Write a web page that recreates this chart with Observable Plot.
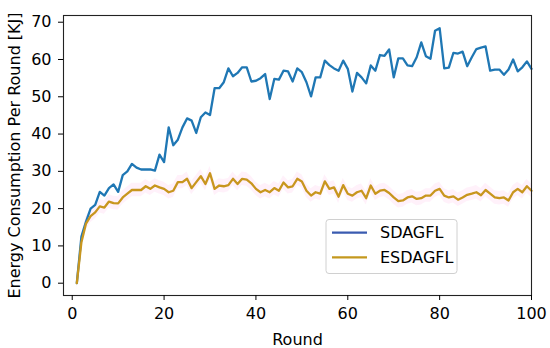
<!DOCTYPE html>
<html>
<head>
<meta charset="utf-8">
<script src="https://cdn.jsdelivr.net/npm/d3@7"></script>
<script src="https://cdn.jsdelivr.net/npm/@observablehq/plot@0.6"></script>
<style>
  html, body { margin: 0; padding: 0; background: white; }
</style>
</head>
<body>
<div id="chart"></div>
<script>
const rounds = d3.range(1, 101);
const seriesNames = ["SDAGFL", "ESDAGFL"];
const seriesColors = ["#1f77b4", "#c8961e"];
const sdagfl = [
  0, 12.5, 16.5, 20, 21, 24.5, 23.5, 25.5, 26.5, 24.5,
  29, 30, 32, 31, 30.5, 30.5, 30.5, 30.2, 34.5, 32.5,
  41.8, 37, 38.5, 41.8, 44.2, 43.6, 40.3, 44.5, 45.8, 45.1,
  52.3, 52.3, 53.9, 57.6, 55.5, 56.4, 57.9, 57.9, 54.1, 54.3,
  55, 56.1, 49.4, 54.8, 54.6, 57, 56.8, 54.1, 57.6, 56.6,
  53.9, 50.1, 55.2, 55.2, 59.7, 58.5, 57.6, 57, 59.7, 57.5,
  51.4, 56.4, 55.2, 53.6, 58.4, 57, 61.2, 61, 62.7, 55.2,
  60.3, 60.3, 58.4, 58.2, 60.6, 64.6, 60.9, 60.2, 67.7, 68.4,
  57.6, 57.8, 61.8, 61.6, 62.1, 58.2, 60.6, 62.8, 63.2, 63.5,
  57, 57.3, 57.3, 55.9, 57.3, 60, 56.8, 57.9, 59.5, 57.5
];
const esdagfl = [
  0, 11, 16, 18, 19, 20.6, 20.3, 21.9, 21.5, 21.4,
  23, 24, 25, 25, 25, 26, 25.3, 26.2, 25.7, 25.3,
  24.4, 24.8, 27.1, 27.1, 28, 25.5, 27.1, 28.7, 26.6, 29.5,
  25.3, 26.2, 26, 26.3, 28, 26.6, 28, 27.8, 26.8, 25.3,
  24.4, 25, 24.4, 25.5, 24.8, 27, 25.7, 26, 28, 27.3,
  24.8, 23.5, 24.4, 24, 27.3, 25.3, 25.7, 23.2, 26.3, 24,
  23.5, 24.4, 24.8, 22.8, 26.2, 24, 24.8, 25, 24.2, 23,
  22, 22.2, 23, 23.3, 22.6, 22.8, 23.5, 23.5, 24.8, 25.3,
  23.5, 23, 23.3, 22.4, 23, 23.7, 24, 24.4, 23.6, 25,
  24, 23, 22.8, 23, 22.2, 24.4, 25.3, 24.4, 26, 24.8
];
const xTicks = [0, 20, 40, 60, 80, 100];
const yTicks = [0, 10, 20, 30, 40, 50, 60, 70];

const data = rounds.map((r, i) => ({round: r, s: sdagfl[i], e: esdagfl[i]}));

const FS = 16;
const chart = Plot.plot({
  width: 550,
  height: 348,
  marginLeft: 63,
  marginRight: 19,
  marginTop: 15,
  marginBottom: 53,
  x: {domain: [-1.9, 100]},
  y: {domain: [-3.3, 71.8]},
  style: {fontFamily: "DejaVu Sans", fontSize: FS + "px", color: "black", background: "white"},
  marks: [
    Plot.areaY(data, {x: "round", y1: d => d.e - 1.8, y2: d => d.e + 1.8, fill: "#ff66cc", fillOpacity: 0.09}),
    Plot.lineY(data, {x: "round", y: "s", stroke: seriesColors[0], strokeWidth: 2.3}),
    Plot.lineY(data, {x: "round", y: "e", stroke: seriesColors[1], strokeWidth: 2.3}),
    Plot.frame({stroke: "#222", strokeWidth: 1.1}),
    Plot.axisX({ticks: xTicks, tickSize: 5, tickPadding: 7, fontSize: FS, label: "Round", labelAnchor: "center", labelArrow: "none", labelOffset: 49}),
    Plot.axisY({ticks: yTicks, tickSize: 5, tickPadding: 7, fontSize: FS, label: "Energy Consumption Per Round [KJ]", labelAnchor: "center", labelArrow: "none", labelOffset: 55})
  ]
});
document.getElementById("chart").appendChild(chart);

// legend
const svg = d3.select(chart);
const lg = svg.append("g");
lg.append("rect").attr("x", 326).attr("y", 219.5).attr("width", 131).attr("height", 54)
  .attr("rx", 3).attr("fill", "white").attr("fill-opacity", 0.85).attr("stroke", "#d0d0d0");
seriesNames.forEach((name, i) => {
  const y = 232.7 + i * 24.6;
  lg.append("line").attr("x1", 332).attr("x2", 367).attr("y1", y).attr("y2", y)
    .attr("stroke", i === 0 ? "#3a5bb0" : "#c4981e").attr("stroke-width", 2.3);
  lg.append("text").attr("x", 380).attr("y", y).attr("dy", "0.36em")
    .attr("text-anchor", "start").attr("font-size", FS).attr("fill", "black").text(name);
});
</script>
</body>
</html>
